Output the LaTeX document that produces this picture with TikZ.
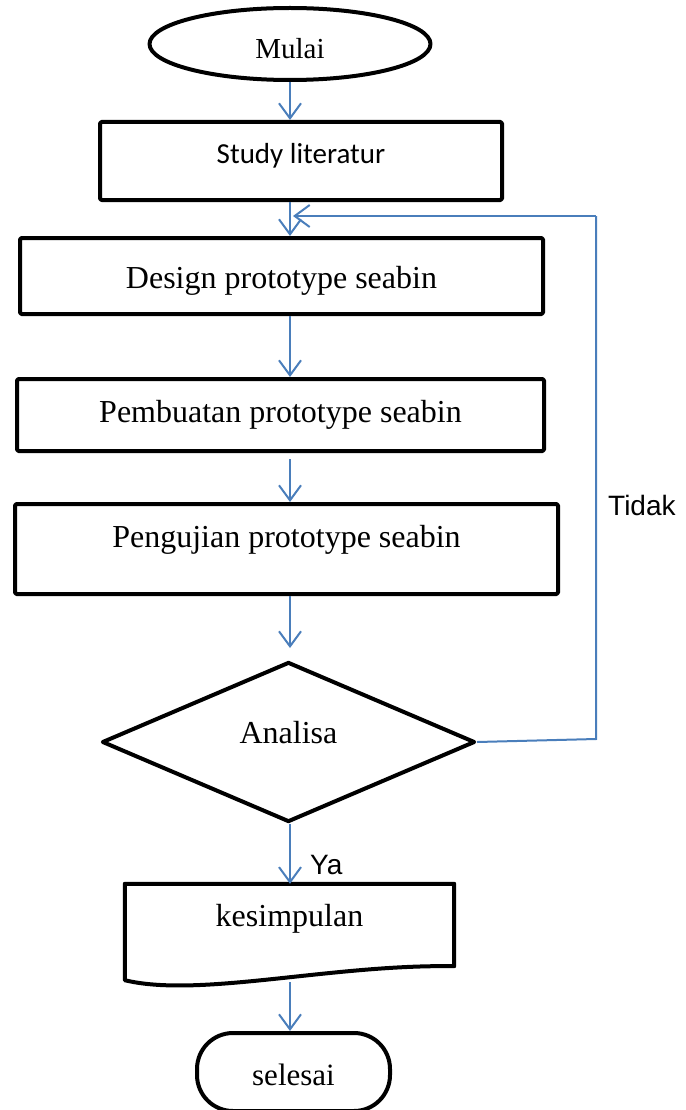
\documentclass[tikz,border=0pt]{standalone}
\usepackage{fontspec}
\setmainfont{Liberation Serif}
\newfontfamily\calfont{Carlito}
\newfontfamily\arifont{Liberation Sans}
\usetikzlibrary{shapes.geometric,arrows.meta}
\definecolor{flowblue}{RGB}{74,126,187}
\newcommand{\rt}[2]{\raisebox{#1}[0pt][0pt]{#2}}
\tikzset{
  shapeline/.style={draw=black,line width=4pt,line join=round,fill=white},
  procbox/.style={shapeline,rectangle,rounded corners=1.5pt,inner sep=0pt,
    font=\fontsize{32}{36}\selectfont},
  arr/.style={draw=flowblue,line width=2pt,
    -{Straight Barb[length=15pt,width=22pt,line width=2pt]}},
  plainline/.style={draw=flowblue,line width=2pt},
  lbl/.style={font=\arifont\fontsize{28}{32}\selectfont,inner sep=0pt,anchor=base west}
}
\begin{document}
\begin{tikzpicture}[x=1pt,y=-1pt]
\useasboundingbox (0,0) rectangle (685,1110);
% nodes
\node[shapeline,ellipse,minimum width=281pt,minimum height=72pt,inner sep=0pt,
  font=\fontsize{29}{33}\selectfont] (mulai) at (290,44) {\rt{-15pt}{Mulai}};
\node[procbox,minimum width=402pt,minimum height=78pt,font=\calfont\fontsize{29}{33}\selectfont]
  (study) at (301,161) {\rt{-2pt}{Study literatur}};
\node[procbox,minimum width=523pt,minimum height=76pt] (design) at (281.5,276)
  {\rt{-12pt}{Design prototype seabin}};
\node[procbox,minimum width=527pt,minimum height=72pt] (buat) at (280.5,415)
  {\rt{-7pt}{Pembuatan prototype seabin}};
\node[procbox,minimum width=543pt,minimum height=90pt] (uji) at (286.5,549)
  {\rt{2pt}{Pengujian prototype seabin}};
\node[shapeline,diamond,minimum width=373pt,minimum height=160pt,inner sep=0pt,
  font=\fontsize{32}{36}\selectfont] (analisa) at (288.5,742) {\rt{-1pt}{Analisa}};
% document shape (kesimpulan)
\node[rectangle,minimum width=329pt,minimum height=96pt,inner sep=0pt,
  font=\fontsize{32}{36}\selectfont] (kes) at (289.5,932) {};
\draw[shapeline] (kes.north west) -- (kes.north east) -- ([yshift=14pt]kes.south east)
  .. controls ([xshift=-124pt,yshift=16pt]kes.south east) and ([xshift=75pt,yshift=-18pt]kes.south west)
  .. (kes.south west) -- cycle;
\node[font=\fontsize{32}{36}\selectfont,inner sep=0pt] at (kes) {\rt{6pt}{kesimpulan}};
\node[shapeline,rectangle,rounded corners=36pt,minimum width=193pt,minimum height=78pt,
  inner sep=0pt,font=\fontsize{31}{35}\selectfont] (selesai) at (293.5,1072)
  {\rt{-13pt}{selesai}};
% feedback corner points
\coordinate (fb1) at (596,739);
\coordinate (fb2) at (596,216);
% connectors
\draw[arr] (mulai.south) -- (mulai.south |- study.north);
\draw[arr] (study.south -| mulai) -- (design.north -| mulai);
\draw[arr] (design.south -| mulai) -- (buat.north -| mulai);
\draw[arr] ([yshift=-6pt]buat.south -| mulai) -- (uji.north -| mulai);
\draw[arr] (uji.south -| mulai) -- ([yshift=12pt]analisa.north -| mulai);
\draw[plainline] (analisa.east) -- (fb1) -- (fb2);
\draw[arr] (fb2) -- ([xshift=3pt]fb2 -| mulai);
\draw[arr] (analisa.south -| mulai) -- (kes.north -| mulai);
\draw[arr] ([yshift=-2pt]kes.south -| mulai) -- (selesai.north -| mulai);
% labels
\node[lbl] (tidak) at (608,515) {Tidak};
\node[lbl] (ya) at (310,874) {Ya};
\end{tikzpicture}
\end{document}
